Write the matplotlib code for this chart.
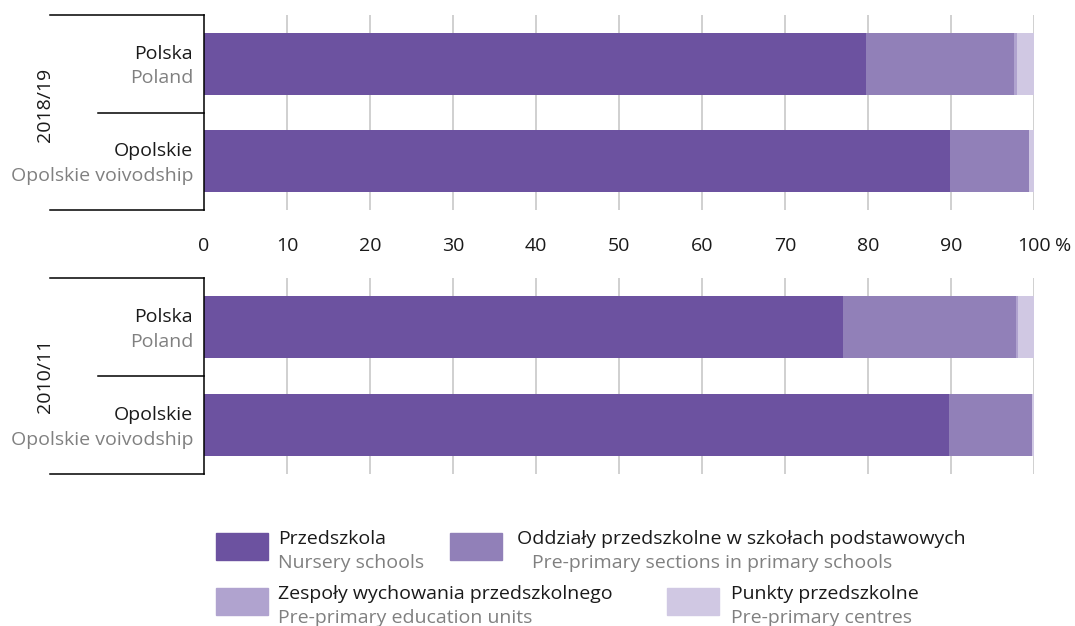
import matplotlib
matplotlib.use("Agg")
import matplotlib.pyplot as plt
from matplotlib.patches import Rectangle
from matplotlib.transforms import offset_copy

plt.rcParams['font.family'] = ['Open Sans', 'DejaVu Sans']

# data (percent shares)
regions_pl = ["Polska", "Opolskie"]
regions_en = ["Poland", "Opolskie voivodship"]
years = ["2018/19", "2010/11"]

przedszkola = {"2018/19": [79.8, 89.9], "2010/11": [77.0, 89.8]}
oddzialy = {"2018/19": [17.8, 9.5], "2010/11": [20.8, 10.0]}
zespoly = {"2018/19": [0.3, 0.0], "2010/11": [0.3, 0.0]}
punkty = {"2018/19": [2.1, 0.6], "2010/11": [1.9, 0.2]}

series_pl = ["Przedszkola", "Oddziały przedszkolne w szkołach podstawowych",
             "Zespoły wychowania przedszkolnego", "Punkty przedszkolne"]
series_en = ["Nursery schools", "Pre-primary sections in primary schools",
             "Pre-primary education units", "Pre-primary centres"]
colors = ["#6c52a0", "#9180b8", "#b0a3cf", "#d0c8e3"]

ticks = [0, 10, 20, 30, 40, 50, 60, 70, 80, 90, 100]

W, H = 1075, 626
fig = plt.figure(figsize=(W / 100, H / 100), dpi=100)

dark = "#1a1a1a"
gray = "#808080"
fs = 14


def px_axes(x0, y0, x1, y1):
    return fig.add_axes([x0 / W, 1 - y1 / H, (x1 - x0) / W, (y1 - y0) / H])


ax_top = px_axes(204, 15, 1034, 210)
ax_bot = px_axes(204, 278, 1034, 474)

for ax, year, ypos in [(ax_top, years[0], 0.54), (ax_bot, years[1], 0.5)]:
    data = [przedszkola[year], oddzialy[year], zespoly[year], punkty[year]]
    left = [0, 0]
    for vals, c in zip(data, colors):
        ax.barh([0, 1], vals, left=left, height=0.635, color=c, zorder=2)
        left = [l + v for l, v in zip(left, vals)]

    ax.set_xlim(0, 100)
    ax.set_ylim(1.5, -0.5)
    for t in ticks[1:]:
        ax.axvline(t, color="#c4c4c4", lw=1.1, zorder=1)
    for s in ax.spines.values():
        s.set_visible(False)
    ax.set_yticks([])
    ax.set_xticks([])

    # bracket
    kw = dict(transform=ax.transAxes, clip_on=False, color="black", lw=1.1)
    ax.plot([0, 0], [0, 1], **kw)
    ax.plot([-0.1855, 0], [1, 1], **kw)
    ax.plot([-0.1855, 0], [0, 0], **kw)
    ax.plot([-0.128, 0], [0.5, 0.5], **kw)

    tr = ax.get_yaxis_transform()
    for i in range(2):
        ax.text(-0.013, i - 0.10, regions_pl[i], transform=tr, ha="right",
                va="center", fontsize=fs, color=dark)
        ax.text(-0.013, i + 0.15, regions_en[i], transform=tr, ha="right",
                va="center", fontsize=fs, color=gray)
    ax.text(-0.1916, ypos, year, transform=ax.transAxes, rotation=90,
            ha="center", va="center", fontsize=fs, color=dark)

# tick labels between panels
xtr = ax_top.get_xaxis_transform()
for t in ticks:
    ax_top.text(t, -0.185, str(t), transform=xtr, ha="center", va="center",
                fontsize=fs, color=dark)
ax_top.text(100, -0.185, "%", ha="left", va="center", fontsize=fs, color=dark,
            transform=offset_copy(xtr, fig=fig, x=21, units="dots"))

# legend
legend_pos = [
    (216, 533, 278, 278),
    (450, 533, 517, 532),
    (216, 588, 278, 278),
    (667, 588, 731, 731),
]
for i, (px, py, tx1, tx2) in enumerate(legend_pos):
    fig.patches.append(Rectangle((px / W, 1 - (py + 27) / H), 52 / W, 27 / H,
                                 transform=fig.transFigure, color=colors[i]))
    fig.text(tx1 / W, 1 - (py + 6) / H, series_pl[i], ha="left", va="center",
             fontsize=fs, color=dark)
    fig.text(tx2 / W, 1 - (py + 30) / H, series_en[i], ha="left", va="center",
             fontsize=fs, color=gray)

fig.savefig("out.png", dpi=100)
